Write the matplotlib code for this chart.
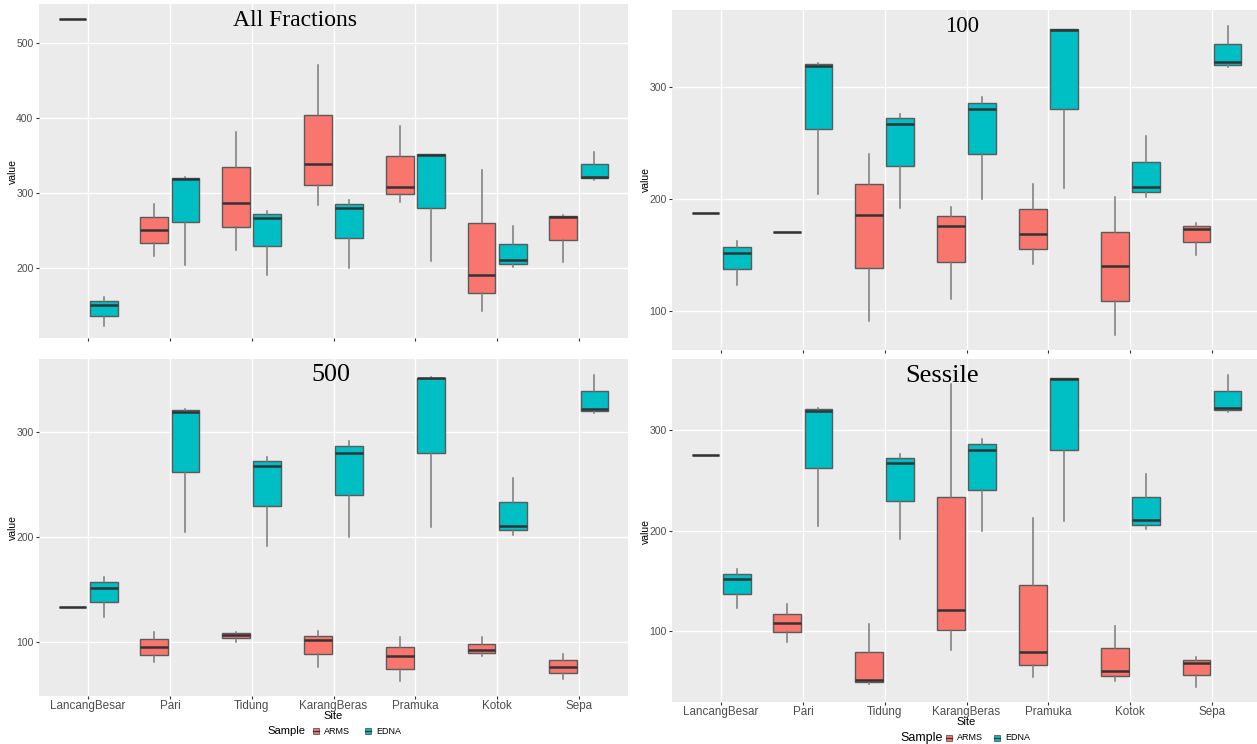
import numpy as np
import matplotlib
matplotlib.use("Agg")
import matplotlib.pyplot as plt
from matplotlib.patches import Rectangle
from matplotlib.lines import Line2D

# ---------------------------------------- DATA ----------------------------------------
sites = ["LancangBesar", "Pari", "Tidung", "KarangBeras", "Pramuka", "Kotok", "Sepa"]
samples = ["ARMS", "EDNA"]

# five-number summaries per site: (whisker low, q1, median, q3, whisker high)
edna_stats = [
    (123.5, 137.3, 151.5, 156.7, 162.0),
    (204.5, 262.0, 319.0, 320.5, 321.5),
    (191.5, 229.3, 267.3, 272.0, 276.0),
    (200.0, 240.0, 280.0, 286.0, 291.0),
    (209.5, 280.0, 351.0, 351.5, 352.0),
    (201.5, 206.0, 210.5, 233.0, 256.0),
    (317.5, 320.0, 322.0, 338.5, 354.5),
]

arms_all = [
    (531.0, 531.0, 531.0, 531.0, 531.0),
    (217.0, 234.0, 251.0, 268.0, 285.0),
    (224.0, 255.0, 286.6, 334.5, 382.0),
    (284.0, 311.0, 339.0, 404.0, 470.0),
    (288.0, 298.7, 308.5, 349.0, 390.0),
    (143.0, 167.0, 191.0, 261.0, 331.0),
    (208.0, 238.0, 268.0, 269.0, 270.5),
]

arms_100 = [
    (187.8, 187.8, 187.8, 187.8, 187.8),
    (170.0, 170.0, 170.0, 170.0, 170.0),
    (91.3, 138.2, 186.0, 213.0, 240.5),
    (111.0, 143.3, 175.8, 184.5, 192.6),
    (142.0, 155.0, 168.9, 191.0, 213.7),
    (78.3, 109.0, 140.0, 170.7, 201.6),
    (150.0, 161.4, 172.8, 175.8, 178.5),
]

arms_500 = [
    (133.0, 133.0, 133.0, 133.0, 133.0),
    (80.4, 87.5, 94.9, 102.2, 109.3),
    (99.4, 103.2, 106.7, 108.3, 109.0),
    (75.3, 88.0, 101.3, 105.5, 110.3),
    (62.4, 74.3, 86.0, 95.0, 104.0),
    (86.2, 88.8, 91.6, 97.4, 104.0),
    (64.4, 70.1, 76.2, 82.7, 88.1),
]

arms_sessile = [
    (274.9, 274.9, 274.9, 274.9, 274.9),
    (89.6, 98.7, 108.0, 117.0, 126.5),
    (47.4, 49.4, 51.4, 79.6, 107.4),
    (81.0, 100.7, 120.8, 233.7, 346.0),
    (54.4, 66.8, 79.6, 146.2, 212.6),
    (50.4, 55.4, 60.5, 82.9, 105.4),
    (44.7, 56.1, 67.8, 71.2, 74.2),
]

panel_titles = ["All Fractions", "100", "500", "Sessile"]

# ---------------------------------------- STYLE ----------------------------------------
W, H = 1257, 744
ARMS_COL = "#F8766D"
EDNA_COL = "#00BFC4"
SANS = "Liberation Sans"
SERIF = "Liberation Serif"

fig = plt.figure(figsize=(W / 100, H / 100), dpi=100)


def frac(x, y):
    # pixel position (from top-left) -> figure fraction
    return x / W, 1 - y / H


def add_axes_px(left, top, right, bottom):
    return fig.add_axes([left / W, 1 - bottom / H, (right - left) / W, (bottom - top) / H])


def to_stats(rows):
    return [dict(whislo=r[0], q1=r[1], med=r[2], q3=r[3], whishi=r[4], fliers=[]) for r in rows]


def draw_panel(ax, arms, ylim, yticks, xlim, show_xlabels):
    pos = np.arange(1, len(sites) + 1)
    for stats, offset, col in [(arms, -0.19, ARMS_COL), (edna_stats, 0.19, EDNA_COL)]:
        ax.bxp(to_stats(stats), positions=pos + offset, widths=0.34,
               patch_artist=True, showcaps=False, showfliers=False, manage_ticks=False,
               boxprops=dict(facecolor=col, edgecolor="#5a5a5a", linewidth=1.0),
               medianprops=dict(color="#333333", linewidth=1.8),
               whiskerprops=dict(color="#7a7a7a", linewidth=1.1))
    ax.set_facecolor("#EBEBEB")
    ax.set_xlim(*xlim)
    ax.set_ylim(*ylim)
    ax.set_xticks(pos)
    ax.set_yticks(yticks)
    ax.set_xticklabels(sites if show_xlabels else [""] * len(sites),
                       fontsize=8.4, color="#4D4D4D", family=SANS)
    ax.set_yticklabels([str(t) for t in yticks], fontsize=7.5, color="#4D4D4D", family=SANS)
    ax.tick_params(axis="y", length=2.5, color="#333333", pad=1.5)
    ax.tick_params(axis="x", length=2.5, color="#333333", pad=0.3)
    ax.grid(True, color="white", linewidth=1.0)
    ax.set_axisbelow(True)
    for s in ax.spines.values():
        s.set_visible(False)


def legend_px(x_sample, x_arms, x_edna, y, sample_size):
    fig.text(*frac(x_sample, y), "Sample", fontsize=sample_size, family=SANS,
             ha="left", va="center", color="black")
    for xk, col, lab in [(x_arms, ARMS_COL, "ARMS"), (x_edna, EDNA_COL, "EDNA")]:
        x0, y0 = frac(xk - 3, y + 3)
        x1, y1 = frac(xk + 3, y - 3)
        fig.add_artist(Rectangle((x0, y0), x1 - x0, y1 - y0, transform=fig.transFigure,
                                 facecolor=col, edgecolor="#5a5a5a", linewidth=0.6))
        mx0, my = frac(xk - 3, y)
        mx1, _ = frac(xk + 3, y)
        fig.add_artist(Line2D([mx0, mx1], [my, my], transform=fig.transFigure,
                              color="#333333", linewidth=0.9))
        fig.text(*frac(xk + 8, y), lab, fontsize=6.5, family=SANS,
                 ha="left", va="center", color="black")


# ---------------------------------------- PANELS ----------------------------------------
ax_all = add_axes_px(39, 4, 628, 338)
draw_panel(ax_all, arms_all, (107.4, 551.6), [200, 300, 400, 500], (0.4, 7.6), False)

ax_100 = add_axes_px(672, 10, 1257, 350)
draw_panel(ax_100, arms_100, (65.0, 368.7), [100, 200, 300], (0.4, 7.55), False)

ax_500 = add_axes_px(39, 359, 628, 696)
draw_panel(ax_500, arms_500, (48.1, 369.4), [100, 200, 300], (0.4, 7.6), True)

ax_ses = add_axes_px(672, 359, 1257, 702)
draw_panel(ax_ses, arms_sessile, (29.5, 370.7), [100, 200, 300], (0.4, 7.55), True)

# axis titles ("value" and "Site")
for x, y in [(13, 171), (13, 528), (646, 180), (646, 531)]:
    fig.text(*frac(x, y), "value", rotation=90, fontsize=7.5, family=SANS,
             ha="center", va="center")
fig.text(*frac(333, 716), "Site", fontsize=8, family=SANS, ha="center", va="center")
fig.text(*frac(966, 722), "Site", fontsize=8, family=SANS, ha="center", va="center")

# panel titles
fig.text(*frac(295, 20), panel_titles[0], fontsize=17, family=SERIF, ha="center", va="center")
fig.text(*frac(962, 27), panel_titles[1], fontsize=16.5, family=SERIF, ha="center", va="center")
fig.text(*frac(331, 375), panel_titles[2], fontsize=18.7, family=SERIF, ha="center", va="center")
fig.text(*frac(942, 376), panel_titles[3], fontsize=19, family=SERIF, ha="center", va="center")

# legends under the bottom panels
legend_px(267, 316, 368, 731, 8.1)
legend_px(900, 949, 997, 738, 9.0)

fig.savefig("out.png", dpi=100)
